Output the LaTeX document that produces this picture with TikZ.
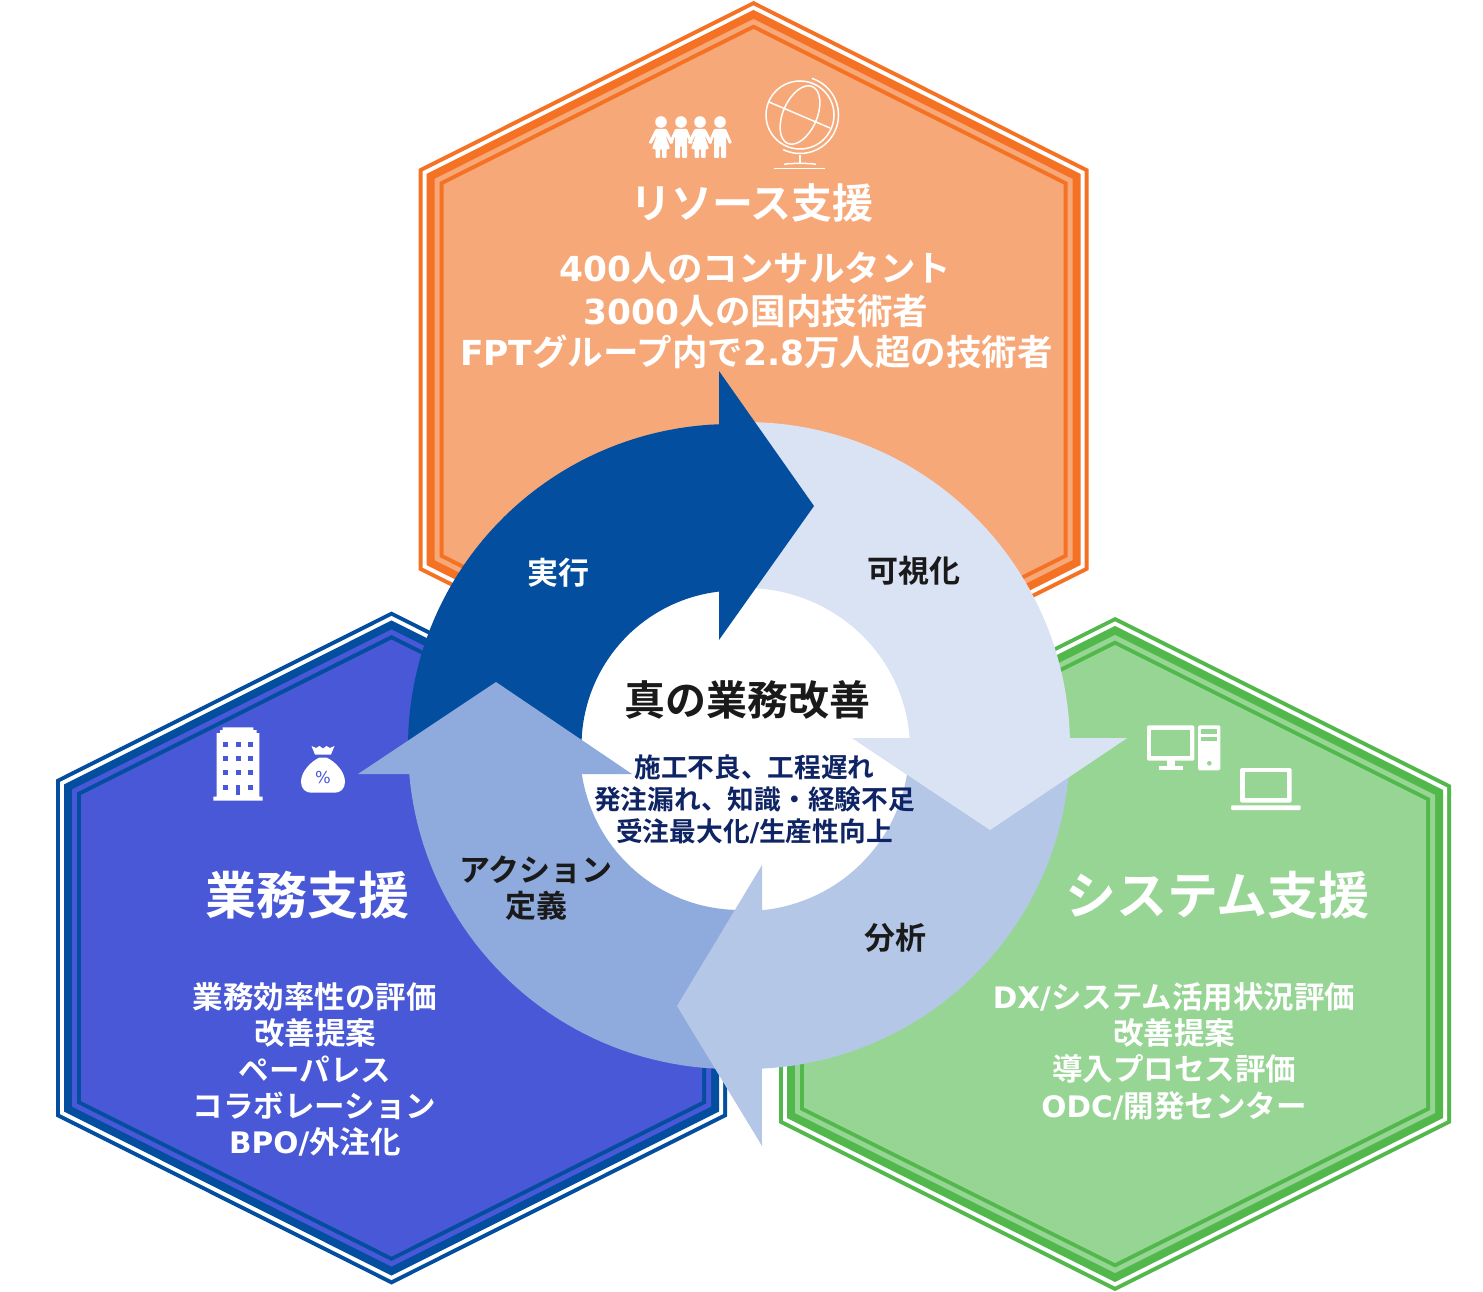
\documentclass[tikz,border=0pt]{standalone}
\usepackage{fontspec}
\setmainfont{Noto Sans CJK JP}[BoldFont={Noto Sans CJK JP Bold}]
\newfontfamily\lat{DejaVu Sans}[Scale=0.97]
\newcommand{\La}[1]{{\lat\bfseries #1}}
\definecolor{oDark}{HTML}{F57224}\definecolor{oFill}{HTML}{F7A878}
\definecolor{bDark}{HTML}{044EA0}\definecolor{bFill}{HTML}{4858D6}
\definecolor{gDark}{HTML}{52B84C}\definecolor{gFill}{HTML}{97D594}
\definecolor{arLight}{HTML}{DAE3F3}\definecolor{arMid}{HTML}{B4C7E7}\definecolor{arDeep}{HTML}{8FAADC}
\definecolor{navy}{HTML}{0F2464}\definecolor{ink}{HTML}{1A1A1A}
\newcommand{\hexa}[7]{% cx cy hw hh off dark fill
  \foreach \d/\c in {0/#6,4/white,8/#6,16/#7,21/#6,25/#7}{
    \fill[\c] ({#1},{#2-#4+1.12*\d})
      -- ({#1+#3-\d},{#2-#4+#5+.62*\d})
      -- ({#1+#3-\d},{#2+#4-#5-.62*\d})
      -- ({#1},{#2+#4-1.12*\d})
      -- ({#1-#3+\d},{#2+#4-#5-.62*\d})
      -- ({#1-#3+\d},{#2-#4+#5+.62*\d}) -- cycle;
  }}
\tikzset{
  fs/.style={font=\bfseries\fontsize{#1}{#1}\selectfont},
  lbl/.style={inner sep=0pt,align=center,text=white},
  ink/.style={inner sep=0pt,align=center,text=ink},
}
\begin{document}
\begin{tikzpicture}[x=1pt,y=-1pt]
\useasboundingbox (0,0) rectangle (1483,1292);
% hexagons
\hexa{753.5}{369.5}{335}{368.5}{168}{oDark}{oFill}
\hexa{391.5}{948}{335.5}{336.5}{168}{bDark}{bFill}
\hexa{1115}{954}{336}{337}{168}{gDark}{gFill}
\fill[white] (746,749) circle[radius=175];
% arrows: light (under dark head)
\fill[arLight] plot[domain=-92:-1.4,samples=50] ({746+324*cos(\x)},{746+324*sin(\x)})
  -- (1127,738) -- (990,830) -- (852,738) -- (909.6,738)
  -- plot[domain=-3.8:-92,samples=40] ({746+164*cos(\x)},{749+161*sin(\x)}) -- cycle;
% dark
\fill[bDark] plot[domain=177.5:267.9,samples=50] ({731+323*cos(\x)},{746+322*sin(\x)})
  -- (719,371) -- (814,506) -- (719,640) -- (719,591)
  -- plot[domain=263.4:175,samples=40] ({737+155.5*cos(\x)},{746+155.5*sin(\x)}) -- cycle;
% deep blue
\fill[arDeep] plot[domain=86:175,samples=50] ({731+323*cos(\x)},{746+323*sin(\x)})
  -- (358,774) -- (496,682) -- (632,774) -- (582,774)
  -- plot[domain=171.4:85,samples=40] ({740+160*cos(\x)},{750+160*sin(\x)}) -- cycle;
% mid blue
\fill[arMid] plot[domain=3:87.2,samples=50] ({746+324*cos(\x)},{746+323*sin(\x)})
  -- (762,1146) -- (677,1006) -- (762,865) -- (762,910)
  -- plot[domain=84.3:3,samples=40] ({746+163*cos(\x)},{749+162*sin(\x)}) -- cycle;
% light head back on top
\fill[arLight] (852,738) -- (990,830) -- (1127,738) -- cycle;

% people
\foreach \cx in {661,700}{
  \fill[white] (\cx,122) circle[radius=5.8];
  \fill[white,rounded corners=1,shift={(\cx,0)}] (-5.5,129) -- (5.5,129) -- (12.5,143) -- (9.5,144) -- (4,134) -- (9,149) -- (5.5,149) -- (5.5,158) -- (1,158) -- (1,149) -- (-1,149) -- (-1,158) -- (-5.5,158) -- (-5.5,149) -- (-9,149) -- (-4,134) -- (-9.5,144) -- (-12.5,143) -- cycle;
}
\foreach \cx in {681,720}{
  \fill[white] (\cx,122) circle[radius=5.8];
  \fill[white,rounded corners=1,shift={(\cx,0)}] (-6,129) -- (6,129) -- (12,143) -- (9,144) -- (6,136) -- (6,158) -- (1,158) -- (1,146) -- (-1,146) -- (-1,158) -- (-6,158) -- (-6,136) -- (-9,144) -- (-12,143) -- cycle;
}
% globe
\begin{scope}[white,line width=1.5pt]
\draw (800,115) circle[radius=34];
\draw plot[domain=-72:116,samples=40] ({800+38.5*cos(\x)},{115+38.5*sin(\x)});
\draw[rotate around={66.5:(800,115)}] (800,115) ellipse[x radius=31,y radius=17];
\draw (769,102) -- (830,128);
\draw (800,155) -- (800,164);
\draw (784,164.5) .. controls (786,163) and (814,163) .. (816,164.5);
\draw (774,168.5) -- (825,168.5);
\end{scope}
% building
\fill[white] (213.3,800.7) -- (213.3,796.7) -- (216.7,796.7) -- (216.7,733) -- (220,733) -- (220,730) -- (222.7,730) -- (222.7,727.3) -- (253.3,727.3) -- (253.3,730) -- (256.7,730) -- (256.7,733) -- (259.3,733) -- (259.3,796.7) -- (262.7,796.7) -- (262.7,800.7) -- cycle;
\foreach \wy in {744.3,758.7,772.7}{\foreach \wx in {225.7,238,250}{
  \fill[bFill] (\wx-2.5,\wy-2.5) rectangle (\wx+2.5,\wy+2.5);}}
\fill[bFill] (223.2,784.5) rectangle (228.2,789.5);
\fill[bFill] (247.5,784.5) rectangle (252.5,789.5);
\fill[bFill] (235.8,784.5) rectangle (240.2,795);
% money bag
\fill[white] (311.5,746) -- (316,748) -- (319.5,746) -- (323,748.5) -- (326.5,746) -- (330,748) -- (334.5,746) -- (331,754.5) -- (315,754.5) -- cycle;
\fill[white] (319.5,757.5) -- (326.5,757.5) .. controls (336,762) and (345,772) .. (345,782) .. controls (345,789) and (340,792.7) .. (335,792.7) -- (311,792.7) .. controls (306,792.7) and (301,789) .. (301,782) .. controls (301,772) and (310,762) .. (319.5,757.5) -- cycle;
\node[inner sep=0pt,text=bFill,font=\lat\fontsize{17}{17}\selectfont] (pct) at (323,777.5) {\%};
% monitor
\fill[white,rounded corners=1.5] (1147,725.3) rectangle (1194.3,760.7);
\fill[gFill] (1151.3,730) rectangle (1190,756);
\fill[white] (1166.7,760) rectangle (1175,766);
\fill[white] (1158.7,766) rectangle (1183,770.3);
\fill[white,rounded corners=1.5] (1198,725.3) rectangle (1220.3,770.3);
\fill[gFill] (1201.3,729) rectangle (1217.3,733.7);
\fill[gFill] (1201.3,736.7) rectangle (1217.3,741.3);
\fill[gFill] (1209.3,763.3) circle[radius=2.3];
% laptop
\fill[white,rounded corners=1.5] (1240,768) rectangle (1291.7,802.7);
\fill[gFill] (1244.7,772.3) rectangle (1287.3,798);
\fill[white,rounded corners=1] (1231,805.3) rectangle (1300.7,810);

% texts
\node[lbl,fs=41] (t1) at (752,203) {リソース支援};
\node[lbl,fs=35.5] (t1a) at (755.5,268) {\La{400}人のコンサルタント};
\node[lbl,fs=35.5] (t1b) at (756,311) {\La{3000}人の国内技術者};
\node[lbl,fs=35.5] (t1c) at (756.5,352) {\La{FPT}グループ内で\La{2.8}万人超の技術者};
\node[lbl,fs=51] (t2) at (307.5,895) {業務支援};
\node[lbl,fs=30.5] (t2a) at (314.5,997) {業務効率性の評価};
\node[lbl,fs=30.5] (t2b) at (315,1033) {改善提案};
\node[lbl,fs=30.5] (t2c) at (315,1069) {ペーパレス};
\node[lbl,fs=30.5] (t2d) at (314.5,1106) {コラボレーション};
\node[lbl,fs=30.5] (t2e) at (315,1142) {\La{BPO/}外注化};
\node[lbl,fs=51] (t3) at (1217.5,895) {システム支援};
\node[lbl,fs=30.5] (t3a) at (1174,997) {\La{DX/}システム活用状況評価};
\node[lbl,fs=30.5] (t3b) at (1174,1033) {改善提案};
\node[lbl,fs=30.5] (t3c) at (1174,1069) {導入プロセス評価};
\node[lbl,fs=30.5] (t3d) at (1174,1106) {\La{ODC/}開発センター};
\node[ink,fs=41] (c0) at (747.5,700) {真の業務改善};
\node[inner sep=0pt,text=navy,fs=26.7] (c1) at (754.5,767) {施工不良、工程遅れ};
\node[inner sep=0pt,text=navy,fs=26.7] (c2) at (754.5,799) {発注漏れ、知識・経験不足};
\node[inner sep=0pt,text=navy,fs=26.7] (c3) at (754.5,831) {受注最大化\La{/}生産性向上};
\node[lbl,fs=31] (a1) at (558,573) {実行};
\node[ink,fs=31] (a2) at (914,571) {可視化};
\node[ink,fs=31] (a3) at (895,938) {分析};
\node[ink,fs=31] (a4a) at (536,870) {アクション};
\node[ink,fs=31] (a4b) at (536,906) {定義};
\end{tikzpicture}
\end{document}
